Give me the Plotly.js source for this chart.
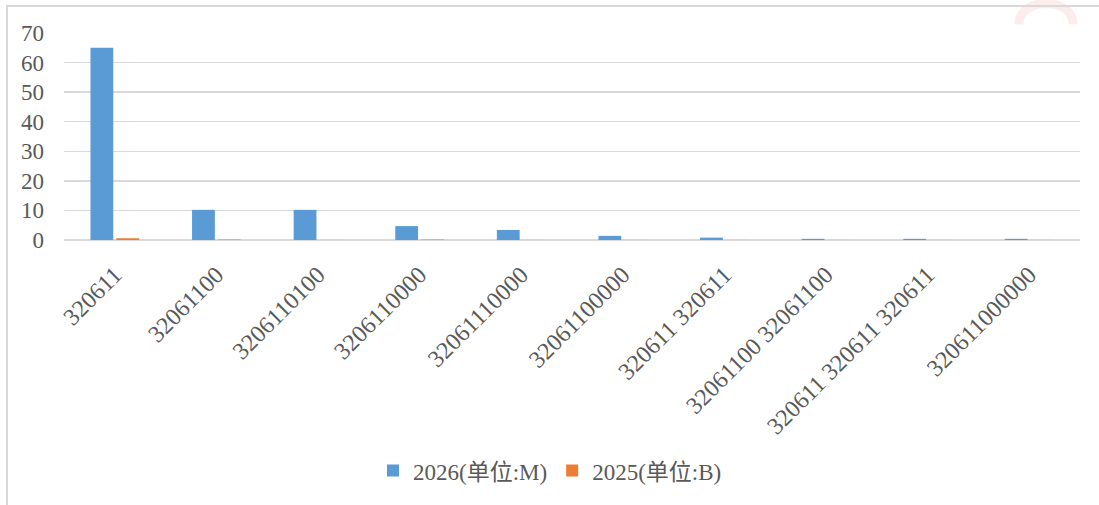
<!DOCTYPE html>
<html>
<head>
<meta charset="utf-8">
<script src="https://cdn.plot.ly/plotly-3.0.1.min.js"></script>
<style>
  html, body { margin: 0; padding: 0; background: #ffffff; }
  #wrap { position: relative; width: 1099px; height: 505px; overflow: hidden; }
  #chart { width: 1099px; height: 505px; }
  #frame { position: absolute; left: 6px; top: 5px; width: 1200px; height: 600px;
           border-top: 2px solid #d9d9d9; border-left: 2px solid #d9d9d9; pointer-events: none; }
</style>
</head>
<body>
<div id="wrap">
  <div id="chart"></div>
  <div id="frame"></div>
</div>
<script>
const categories = ["320611", "32061100", "3206110100", "3206110000", "32061110000",
                    "32061100000", "320611 320611", "32061100 32061100",
                    "320611 320611 320611", "320611000000"];
const series2026 = [65, 10.2, 10.2, 4.7, 3.4, 1.4, 0.8, 0.4, 0.4, 0.4];
const series2025 = [0.6, 0.15, 0.02, 0.15, 0.02, 0.02, 0.02, 0.02, 0.02, 0.02];
const name2026 = "2026(单位:M)";
const name2025 = "2025(单位:B)";

const FONT = "Liberation Serif, Times New Roman, Noto Sans CJK SC, serif";
const GREY = "#595959";

// pixel -> paper helpers for decorative watermark
const L = 64, R = 19, T = 33, B = 262, W = 1099, H = 505;
const pw = W - L - R, ph = H - T - B;
const px = x => (x - L) / pw;
const py = y => (H - B - y) / ph;

const traces = [
  { type: "bar", name: name2026, x: categories, y: series2026,
    marker: { color: "#5b9bd5" }, hoverinfo: "x+y" },
  { type: "bar", name: name2025, x: categories, y: series2025,
    marker: { color: "#ed7d31" }, hoverinfo: "x+y" }
];

const layout = {
  width: W, height: H,
  margin: { l: L, r: R, t: T, b: B, pad: 0 },
  paper_bgcolor: "#ffffff", plot_bgcolor: "#ffffff",
  font: { family: FONT, size: 23, color: GREY },
  barmode: "group", bargap: 0.49, bargroupgap: 0.12,
  showlegend: true,
  legend: { orientation: "h", x: px(550), xanchor: "center", y: py(477), yanchor: "middle",
            font: { family: FONT, size: 23, color: GREY }, bgcolor: "rgba(0,0,0,0)" },
  xaxis: { type: "category", tickangle: -45, showgrid: false, showline: false, zeroline: false,
           ticks: "", tickfont: { family: FONT, size: 24, color: GREY }, automargin: false,
           ticklabelstandoff: 15 },
  yaxis: { range: [0, 70], dtick: 10, showgrid: true, gridcolor: "#d9d9d9", gridwidth: 1.5,
           zeroline: true, zerolinecolor: "#d9d9d9", zerolinewidth: 1.5, showline: false,
           ticks: "", tickfont: { family: FONT, size: 23, color: GREY }, automargin: false,
           ticklabelstandoff: 19 },
  shapes: [
    { type: "path", xref: "paper", yref: "paper", layer: "below",
      path: `M ${px(1019)} ${py(24)} C ${px(1019)} ${py(-4)} ${px(1073)} ${py(-4)} ${px(1073)} ${py(24)}`,
      line: { color: "rgba(240,120,120,0.14)", width: 9 } }
  ]
};

Plotly.newPlot("chart", traces, layout, { displayModeBar: false, staticPlot: true });
</script>
</body>
</html>
